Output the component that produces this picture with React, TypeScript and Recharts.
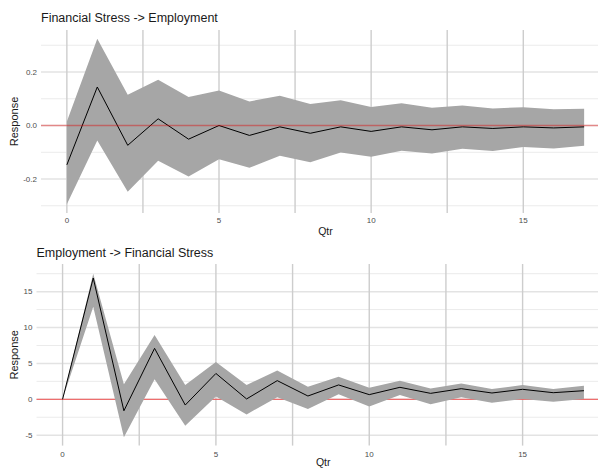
import React from 'react';
import {
  ComposedChart,
  Area,
  Line,
  XAxis,
  YAxis,
  CartesianGrid,
  ReferenceLine,
} from 'recharts';

// Impulse responses by quarter, with confidence bands
const qtr = [0, 1, 2, 3, 4, 5, 6, 7, 8, 9, 10, 11, 12, 13, 14, 15, 16, 17];

const fsEmpResp = [-0.147, 0.144, -0.074, 0.025, -0.051, 0.0, -0.037, -0.005, -0.029, -0.005, -0.022, -0.005, -0.016, -0.005, -0.011, -0.005, -0.009, -0.005];
const fsEmpUpper = [0.015, 0.324, 0.115, 0.171, 0.107, 0.131, 0.09, 0.111, 0.08, 0.094, 0.069, 0.083, 0.066, 0.075, 0.064, 0.068, 0.061, 0.063];
const fsEmpLower = [-0.294, -0.056, -0.248, -0.132, -0.191, -0.126, -0.158, -0.113, -0.137, -0.101, -0.117, -0.094, -0.105, -0.087, -0.095, -0.08, -0.086, -0.076];

const empFsResp = [0, 16.9, -1.6, 7.1, -0.8, 3.6, 0.05, 2.6, 0.46, 2.0, 0.65, 1.67, 0.83, 1.48, 0.88, 1.39, 0.92, 1.2];
const empFsUpper = [0, 17.5, 2.1, 8.95, 2.0, 5.2, 2.0, 4.0, 1.75, 3.15, 1.6, 2.6, 1.5, 2.2, 1.43, 2.0, 1.43, 1.9];
const empFsLower = [0, 12.9, -5.3, 2.8, -3.7, 0.4, -2.1, 0.3, -1.35, 0.7, -1.0, 0.6, -0.7, 0.28, -0.47, 0.04, -0.33, 0.04];

const xTicks = [0, 5, 10, 15];
const xGrid = [0, 2.5, 5, 7.5, 10, 12.5, 15, 17.5];
const zero = [0];

const fsEmpTicks = [-0.2, 0, 0.2];
const fsEmpMinor = [-0.3, -0.1, 0.1, 0.3];
const empFsTicks = [-5, 0, 5, 10, 15];
const empFsMinor = [-2.5, 2.5, 7.5, 12.5, 17.5];

const FONT = '"Liberation Sans", Arial, Helvetica, sans-serif';

type PanelProps = {
  title: string;
  top: number;
  resp: number[];
  upper: number[];
  lower: number[];
  yDomain: [number, number];
  yTicks: number[];
  yMinor: number[];
  yFormat: (v: number) => string;
  yAxisWidth: number;
  marginTop: number;
  marginBottom: number;
  tickGap: number;
  labelOffset: number;
  zeroOnTop: boolean;
  titleTop: number;
};

const Panel: React.FC<PanelProps> = (p) => {
  const data = qtr.map((q, i) => ({
    qtr: q,
    resp: p.resp[i],
    band: [p.lower[i], p.upper[i]],
  }));

  return (
    <div style={{ position: 'absolute', left: 0, top: p.top }}>
      <div
        style={{
          position: 'absolute',
          left: p.yAxisWidth,
          top: p.titleTop,
          fontFamily: FONT,
          fontSize: 12.5,
          lineHeight: '12.5px',
          color: '#1a1a1a',
          whiteSpace: 'nowrap',
        }}
      >
        {p.title}
      </div>
      <ComposedChart
        width={620}
        height={240}
        data={data}
        margin={{ top: p.marginTop, right: 10, left: 0, bottom: p.marginBottom }}
      >
        <CartesianGrid
          vertical={false}
          horizontalValues={p.yMinor}
          stroke="#ebebeb"
          strokeWidth={1}
        />
        <CartesianGrid
          vertical={false}
          horizontalValues={p.yTicks}
          stroke="#e3e3e3"
          strokeWidth={1.5}
        />
        <CartesianGrid
          horizontal={false}
          verticalValues={xGrid}
          stroke="#cdcdcd"
          strokeWidth={1.4}
        />
        {/* zero line beneath the band */}
        {!p.zeroOnTop && (
          <CartesianGrid
            vertical={false}
            horizontalValues={zero}
            stroke="#f05050"
            strokeWidth={1}
          />
        )}
        <XAxis
          dataKey="qtr"
          type="number"
          domain={[-0.85, 17.85]}
          ticks={xTicks}
          allowDataOverflow
          axisLine={false}
          tickLine={false}
          tickSize={0}
          tickMargin={p.tickGap}
          height={22}
          tick={{ fontSize: 8, fill: '#4d4d4d', fontFamily: FONT }}
          label={{
            value: 'Qtr',
            position: 'insideBottom',
            offset: p.labelOffset,
            style: { fontSize: 10.5, fill: '#1a1a1a', fontFamily: FONT },
          }}
        />
        <YAxis
          type="number"
          domain={p.yDomain}
          ticks={p.yTicks}
          allowDataOverflow
          width={p.yAxisWidth}
          axisLine={false}
          tickLine={false}
          tickSize={0}
          tickMargin={4}
          tickFormatter={p.yFormat}
          tick={{ fontSize: 8, fill: '#4d4d4d', fontFamily: FONT }}
          label={{
            value: 'Response',
            angle: -90,
            position: 'insideLeft',
            offset: 14,
            style: { fontSize: 11, fill: '#1a1a1a', fontFamily: FONT, textAnchor: 'middle' },
          }}
        />
        <Area
          dataKey="band"
          type="linear"
          stroke="none"
          fill="#a6a6a6"
          fillOpacity={1}
          isAnimationActive={false}
        />
        <Line
          dataKey="resp"
          type="linear"
          stroke="#000000"
          strokeWidth={1}
          dot={false}
          isAnimationActive={false}
        />
        {p.zeroOnTop && (
          <ReferenceLine y={0} stroke="#e00000" strokeOpacity={0.4} strokeWidth={1.3} />
        )}
      </ComposedChart>
    </div>
  );
};

export default function App() {
  return (
    <div
      style={{
        position: 'absolute',
        left: 0,
        top: 0,
        width: 598,
        height: 468,
        overflow: 'hidden',
        background: '#ffffff',
      }}
    >
      <Panel
        title="Financial Stress -> Employment"
        top={0}
        resp={fsEmpResp}
        upper={fsEmpUpper}
        lower={fsEmpLower}
        yDomain={[-0.327, 0.357]}
        yTicks={fsEmpTicks}
        yMinor={fsEmpMinor}
        yFormat={(v) => v.toFixed(1)}
        yAxisWidth={41}
        marginTop={30}
        marginBottom={5}
        tickGap={4}
        labelOffset={0.5}
        zeroOnTop={true}
        titleTop={11.5}
      />
      <Panel
        title="Employment -> Financial Stress"
        top={235}
        resp={empFsResp}
        upper={empFsUpper}
        lower={empFsLower}
        yDomain={[-6.45, 18.85]}
        yTicks={empFsTicks}
        yMinor={empFsMinor}
        yFormat={(v) => String(v)}
        yAxisWidth={36.5}
        marginTop={29}
        marginBottom={7.4}
        tickGap={6}
        labelOffset={1.5}
        zeroOnTop={false}
        titleTop={12}
      />
    </div>
  );
}
